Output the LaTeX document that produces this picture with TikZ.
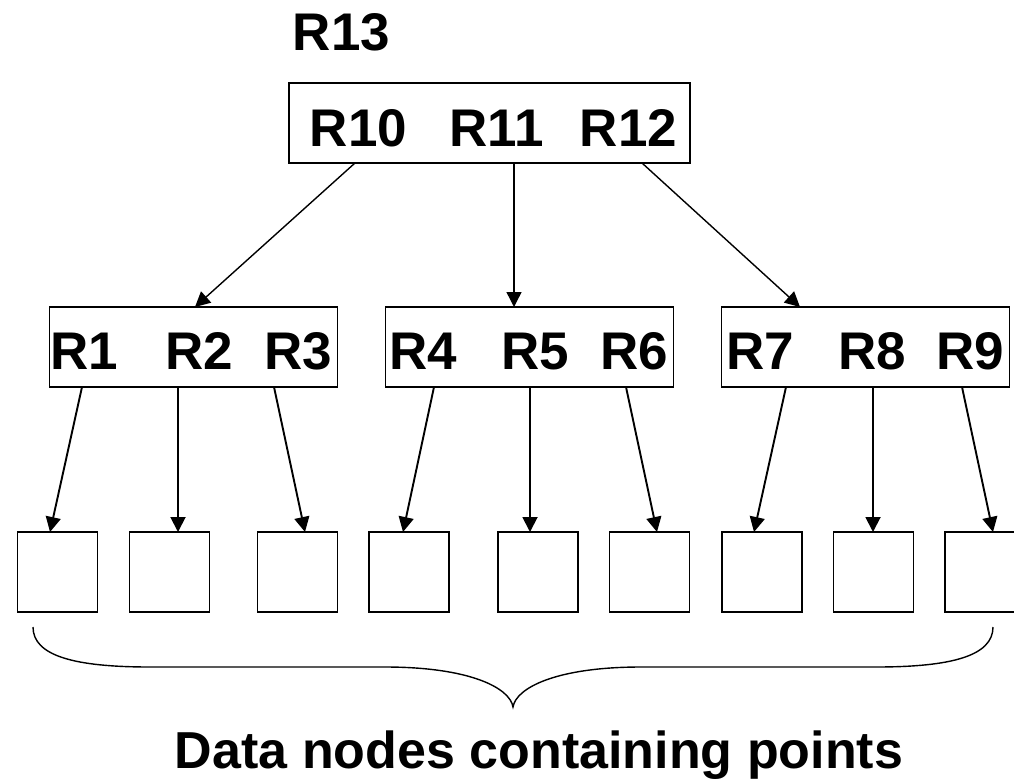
\documentclass[tikz,border=0pt]{standalone}
\usepackage{fontspec}
\setmainfont{Liberation Sans}
\usetikzlibrary{arrows.meta}
\begin{document}
\begin{tikzpicture}[x=1pt,y=-1pt,
  every node/.style={inner sep=0pt, outer sep=0pt},
  rootbox/.style={draw, line width=1.6pt, minimum width=401pt, minimum height=80pt},
  keybox/.style={draw, line width=1.6pt, minimum width=288pt, minimum height=80pt},
  databox/.style={draw, line width=1.6pt, minimum width=80pt, minimum height=80pt},
  lbl/.style={anchor=base, font=\fontsize{53}{60}\selectfont\bfseries},
  caption/.style={anchor=base, font=\fontsize{52}{60}\selectfont\bfseries},
  toparr/.style={-{Triangle[length=15pt,width=15pt]}, line width=1.4pt},
  lowarr/.style={-{Triangle[length=15pt,width=15pt]}, line width=1.9pt},
  bracepath/.style={line width=1.4pt}
]
\useasboundingbox (0,0) rectangle (1014,779);

% root level
\node[lbl] (r13) at (341.5,50) {R13};
\node[rootbox] (r) at (489.5,123) {};
\node[lbl] (r10) at (358.5,146) {R10};
\node[lbl] (r11) at (496.5,146) {R11};
\node[lbl] (r12) at (628.5,146) {R12};

% intermediate level
\node[keybox] (m1) at (193.5,347) {};
\node[keybox] (m2) at (529.5,347) {};
\node[keybox] (m3) at (865.5,347) {};
\node[lbl] (k1) at (84,369) {R1};
\node[lbl] (k2) at (199,369) {R2};
\node[lbl] (k3) at (298.5,369) {R3};
\node[lbl] (k4) at (423,369) {R4};
\node[lbl] (k5) at (535,369) {R5};
\node[lbl] (k6) at (634,369) {R6};
\node[lbl] (k7) at (760,369) {R7};
\node[lbl] (k8) at (872,369) {R8};
\node[lbl] (k9) at (970,369) {R9};

% data nodes
\node[databox] (d1) at (57.5,572) {};
\node[databox] (d2) at (169.5,572) {};
\node[databox] (d3) at (297.5,572) {};
\node[databox] (d4) at (409,572) {};
\node[databox] (d5) at (538,572) {};
\node[databox] (d6) at (649.5,572) {};
\node[databox] (d7) at (762,572) {};
\node[databox] (d8) at (873.5,572) {};
\begin{scope}
  \clip (0,0) rectangle (1014,779);
  \node[databox] (d9) at (985,572) {};
\end{scope}

% root to intermediate
\draw[toparr] ([xshift=66pt]r.south west) -- ([xshift=145.5pt]m1.north west);
\draw[toparr] ([xshift=225pt]r.south west) -- ([xshift=128.5pt]m2.north west);
\draw[toparr] ([xshift=353pt]r.south west) -- ([xshift=78.5pt]m3.north west);

% intermediate to data
\draw[lowarr] ([xshift=32.5pt]m1.south west) -- ([xshift=32.5pt]d1.north west);
\draw[lowarr] ([xshift=128.5pt]m1.south west) -- ([xshift=48.5pt]d2.north west);
\draw[lowarr] ([xshift=224.5pt]m1.south west) -- ([xshift=47.5pt]d3.north west);
\draw[lowarr] ([xshift=48.5pt]m2.south west) -- ([xshift=34pt]d4.north west);
\draw[lowarr] ([xshift=144.5pt]m2.south west) -- ([xshift=32pt]d5.north west);
\draw[lowarr] ([xshift=240.5pt]m2.south west) -- ([xshift=47.5pt]d6.north west);
\draw[lowarr] ([xshift=64.5pt]m3.south west) -- ([xshift=32pt]d7.north west);
\draw[lowarr] ([xshift=151.5pt]m3.south west) -- ([xshift=39.5pt]d8.north west);
\draw[lowarr] ([xshift=240.5pt]m3.south west) -- ([xshift=48pt]d9.north west);

% brace under the data nodes
\draw[bracepath] (33,627) .. controls (33,656) and (75,667) .. (150,667)
  -- (385,667) .. controls (470,667) and (510,688) .. (513,707)
  .. controls (516,688) and (556,667) .. (641,667)
  -- (876,667) .. controls (951,667) and (993,656) .. (993,627);

\node[caption] (cap) at (539,768) {Data nodes containing points};
\end{tikzpicture}
\end{document}
